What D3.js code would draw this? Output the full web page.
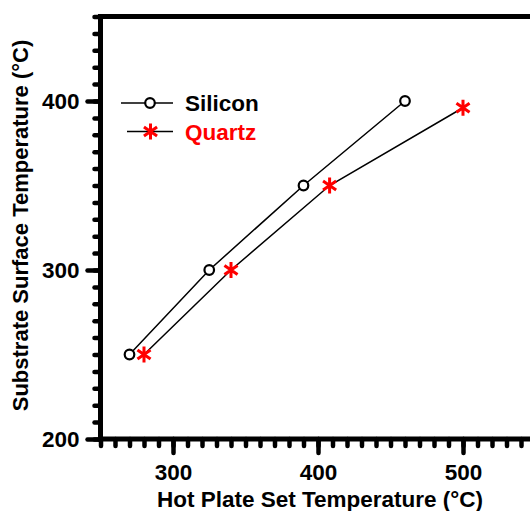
<!DOCTYPE html>
<html>
<head>
<meta charset="utf-8">
<script src="https://cdn.jsdelivr.net/npm/d3@7"></script>
<style>
  body { margin: 0; background: #fff; }
  svg { display: block; }
  text { font-family: "Liberation Sans", Arial, sans-serif; font-weight: bold; }
</style>
</head>
<body>
<svg id="chart" width="530" height="511"></svg>
<script>
// data
let seriesNames = ['Silicon', 'Quartz'];
let siliconX = [270, 325, 390, 460];
let siliconY = [250, 300, 350, 400];
let quartzX = [280, 340, 408, 500];
let quartzY = [250, 300, 350, 396];
let xTicks = [300, 400, 500];
let yTicks = [200, 300, 400];

let svg = d3.select('#chart');

let x = d3.scaleLinear().domain([250, 550]).range([100.5, 535.5]);
let y = d3.scaleLinear().domain([200, 450]).range([439, 16.5]);

let fontSize = 22.5;

// minor ticks first, then the labelled ones
let xMinor = d3.axisBottom(x).tickValues(d3.range(250, 551, 10)).tickSize(7).tickFormat('');
let xMajor = d3.axisBottom(x).tickValues(xTicks).tickSize(14).tickPadding(11).tickFormat(d3.format('d'));
let yMinor = d3.axisLeft(y).tickValues(d3.range(200, 451, 10)).tickSize(6).tickFormat('');
let yMajor = d3.axisLeft(y).tickValues(yTicks).tickSize(13).tickPadding(8).tickFormat(d3.format('d'));

function styleAxis(g) {
  g.select('.domain').remove();
  g.selectAll('.tick line')
    .attr('stroke', '#000')
    .attr('stroke-width', 4.5)
    .attr('stroke-linecap', 'round');
  g.selectAll('text')
    .attr('fill', '#000')
    .style('font-size', fontSize + 'px')
    .style('font-family', '"Liberation Sans", Arial, sans-serif')
    .style('font-weight', 'bold');
}

[xMinor, xMajor].forEach(function (ax) {
  svg.append('g').attr('transform', 'translate(0,' + y(200) + ')').call(ax).call(styleAxis);
});
[yMinor, yMajor].forEach(function (ax) {
  svg.append('g').attr('transform', 'translate(' + x(250) + ',0)').call(ax).call(styleAxis);
});

// frame: left, bottom, top
svg.append('line')
  .attr('x1', x(250)).attr('x2', x(250))
  .attr('y1', y(450) - 2.5).attr('y2', y(200) + 2.5)
  .attr('stroke', '#000').attr('stroke-width', 5);
svg.append('line')
  .attr('x1', x(250) - 2.5).attr('x2', 540)
  .attr('y1', y(200)).attr('y2', y(200))
  .attr('stroke', '#000').attr('stroke-width', 5);
svg.append('line')
  .attr('x1', x(250) - 2.5).attr('x2', 540)
  .attr('y1', y(450)).attr('y2', y(450))
  .attr('stroke', '#000').attr('stroke-width', 5);

// asterisk marker: vertical arm plus two diagonals
function starPath(cx, cy, r) {
  let p = '';
  [90, 35, 145].forEach(function (a) {
    let rad = a * Math.PI / 180;
    let dx = r * Math.cos(rad), dy = r * Math.sin(rad);
    p += 'M' + (cx - dx) + ',' + (cy - dy) + 'L' + (cx + dx) + ',' + (cy + dy);
  });
  return p;
}

let line = d3.line().x(d => x(d[0])).y(d => y(d[1]));
let silicon = siliconX.map((v, i) => [v, siliconY[i]]);
let quartz = quartzX.map((v, i) => [v, quartzY[i]]);

svg.append('path').datum(silicon).attr('d', line)
  .attr('fill', 'none').attr('stroke', '#000').attr('stroke-width', 1.5);
svg.append('path').datum(quartz).attr('d', line)
  .attr('fill', 'none').attr('stroke', '#000').attr('stroke-width', 1.5);

svg.selectAll('.si').data(silicon).enter().append('circle')
  .attr('class', 'si')
  .attr('cx', d => x(d[0])).attr('cy', d => y(d[1])).attr('r', 4.8)
  .attr('fill', '#fff').attr('stroke', '#000').attr('stroke-width', 2.2);
svg.selectAll('.qz').data(quartz).enter().append('path')
  .attr('class', 'qz')
  .attr('d', d => starPath(x(d[0]), y(d[1]), 8))
  .attr('stroke', '#ff0000').attr('stroke-width', 3);

// legend
let legend = svg.append('g');
legend.append('line').attr('x1', 121).attr('x2', 173).attr('y1', 103).attr('y2', 103)
  .attr('stroke', '#000').attr('stroke-width', 1.5);
legend.append('circle').attr('cx', 150).attr('cy', 103).attr('r', 4.8)
  .attr('fill', '#fff').attr('stroke', '#000').attr('stroke-width', 2.2);
legend.append('text').attr('x', 185).attr('y', 111).attr('fill', '#000')
  .style('font-size', fontSize + 'px').text(seriesNames[0]);
legend.append('line').attr('x1', 127).attr('x2', 173).attr('y1', 131.5).attr('y2', 131.5)
  .attr('stroke', '#000').attr('stroke-width', 1.5);
legend.append('path').attr('d', starPath(150.5, 131.5, 8))
  .attr('stroke', '#ff0000').attr('stroke-width', 3);
legend.append('text').attr('x', 185).attr('y', 139.5).attr('fill', '#ff0000')
  .style('font-size', fontSize + 'px').text(seriesNames[1]);

// axis titles
svg.append('text')
  .attr('x', 320).attr('y', 507)
  .attr('text-anchor', 'middle')
  .style('font-size', fontSize + 'px')
  .text('Hot Plate Set Temperature (°C)');
svg.append('text')
  .attr('transform', 'translate(28,225.5) rotate(-90)')
  .attr('text-anchor', 'middle')
  .style('font-size', '22px')
  .text('Substrate Surface Temperature (°C)');
</script>
</body>
</html>
